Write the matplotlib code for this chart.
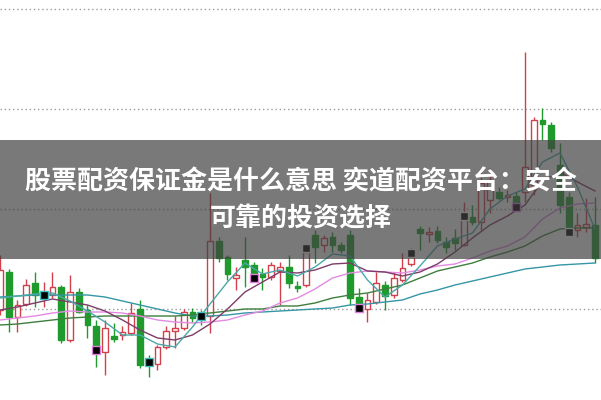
import numpy as np
import matplotlib
matplotlib.use("Agg")
import matplotlib.pyplot as plt

# K线数据 (开 高 低 收)
opens = [8.99, 9.37, 8.92, 9.05, 9.26, 9.12, 9.14, 9.22, 8.69, 9.17,
         8.99, 8.83, 8.57, 8.73, 8.74, 8.76, 9.00, 8.50, 8.45, 8.62,
         8.78, 8.81, 8.97, 8.96, 8.93, 9.68, 9.52, 9.31, 9.49, 9.44,
         9.35, 9.32, 9.38, 9.42, 9.23, 9.24, 9.74, 9.64, 9.72, 9.64,
         9.74, 9.12, 9.00, 9.07, 9.24, 9.14, 9.29, 9.45, 9.80, 9.75,
         9.78, 9.67, 9.71, 9.64, 9.92, 9.87, 10.09, 10.17, 10.12, 10.13,
         10.17, 10.24, 10.89, 10.84, 10.44, 10.12, 9.79, 9.82, 9.84]
highs = [9.54, 9.40, 9.09, 9.30, 9.37, 9.27, 9.37, 9.24, 9.34, 9.21,
         9.04, 8.89, 8.89, 8.86, 8.83, 9.06, 9.09, 8.54, 8.64, 8.83,
         8.93, 9.00, 9.01, 8.99, 10.16, 9.72, 9.54, 9.42, 9.72, 9.47,
         9.41, 9.47, 9.47, 9.54, 9.28, 9.61, 9.79, 9.74, 9.77, 9.67,
         9.79, 9.21, 9.16, 9.37, 9.28, 9.37, 9.56, 9.61, 9.83, 9.82,
         9.83, 9.72, 9.80, 10.07, 10.04, 10.37, 10.41, 10.22, 10.19, 10.17,
         11.57, 10.92, 11.01, 10.87, 10.66, 10.17, 9.96, 10.11, 10.12]
lows = [8.94, 8.77, 8.77, 9.03, 9.02, 9.02, 9.11, 8.66, 8.67, 8.96,
        8.71, 8.42, 8.34, 8.67, 8.69, 8.74, 8.41, 8.32, 8.39, 8.60,
        8.61, 8.79, 8.87, 8.84, 8.76, 9.47, 9.29, 9.19, 9.22, 9.28,
        9.19, 9.29, 9.04, 9.21, 9.17, 9.22, 9.46, 9.57, 9.57, 9.56,
        9.04, 8.97, 8.87, 9.05, 8.99, 9.11, 9.27, 9.43, 9.59, 9.67,
        9.66, 9.56, 9.59, 9.63, 9.84, 9.79, 9.96, 10.09, 10.07, 10.04,
        10.07, 10.14, 10.69, 10.57, 9.96, 9.74, 9.72, 9.77, 9.46]
closes = [9.39, 8.92, 9.04, 9.24, 9.14, 9.16, 9.22, 8.69, 9.17, 8.97,
          8.84, 8.57, 8.81, 8.70, 8.77, 8.96, 8.44, 8.45, 8.62, 8.78,
          8.81, 8.97, 8.91, 8.90, 9.68, 9.51, 9.35, 9.34, 9.42, 9.33,
          9.32, 9.44, 9.42, 9.26, 9.21, 9.57, 9.62, 9.71, 9.64, 9.59,
          9.11, 9.02, 9.09, 9.26, 9.13, 9.31, 9.41, 9.52, 9.76, 9.77,
          9.69, 9.62, 9.66, 9.94, 9.87, 10.26, 10.29, 10.11, 10.14, 10.06,
          10.42, 10.89, 10.85, 10.61, 10.04, 9.79, 9.84, 9.85, 9.51]

# 均线 (每两根K线读一个点)
ma5 = [9.11, 9.13, 9.15, 9.16, 9.08, 8.98, 8.87, 8.74, 8.74, 8.65,
       8.62, 8.82, 9.05, 9.27, 9.46, 9.35, 9.39, 9.33, 9.42, 9.55,
       9.53, 9.29, 9.12, 9.24, 9.43, 9.63, 9.70, 9.76, 10.00, 10.13,
       10.20, 10.47, 10.56, 10.22, 9.80]
ma10 = [8.99, 9.02, 9.06, 9.10, 9.07, 9.04, 8.98, 8.89, 8.79, 8.71,
        8.69, 8.74, 8.85, 9.00, 9.17, 9.27, 9.37, 9.36, 9.39, 9.45,
        9.46, 9.38, 9.37, 9.33, 9.37, 9.45, 9.57, 9.71, 9.84, 9.93,
        10.04, 10.28, 10.37, 10.27, 10.18]
ma20 = [8.89, 8.91, 8.93, 8.96, 8.98, 8.97, 8.97, 8.96, 8.93, 8.89,
        8.87, 8.86, 8.87, 8.89, 8.94, 8.98, 9.06, 9.11, 9.20, 9.31,
        9.36, 9.38, 9.37, 9.36, 9.39, 9.43, 9.45, 9.51, 9.58, 9.63,
        9.72, 9.90, 10.01, 10.05, 10.06]
ma30 = [8.84, 8.85, 8.87, 8.89, 8.91, 8.92, 8.93, 8.93, 8.93, 8.93,
        8.93, 8.94, 8.96, 8.98, 9.00, 9.00, 9.03, 9.03, 9.06, 9.11,
        9.14, 9.16, 9.20, 9.24, 9.31, 9.38, 9.42, 9.46, 9.52, 9.57,
        9.63, 9.73, 9.80, 9.81, 9.81]
ma60 = [9.12, 9.13, 9.14, 9.14, 9.14, 9.14, 9.12, 9.08, 9.04, 9.00,
        8.96, 8.93, 8.93, 8.94, 8.96, 8.97, 8.98, 8.99, 9.00, 9.01,
        9.04, 9.05, 9.07, 9.09, 9.15, 9.19, 9.24, 9.28, 9.32, 9.36,
        9.40, 9.42, 9.44, 9.45, 9.46]

# 每6根的小标记
mark_idx = [5, 11, 17, 23, 29, 35, 41, 47, 53, 59, 65]
mark_val = [9.14, 8.59, 8.47, 8.93, 9.31, 9.61, 9.01, 9.56, 9.93, 10.02, 9.77]
mark_col = ["#40c0c0", "#e080e0", "#40c0c0", "#40c0c0", "#e080e0", "white",
            "#e080e0", "white", "white", "#e080e0", "white"]

grid_levels = [9, 10, 11, 12]
title_1 = "股票配资保证金是什么意思 奕道配资平台：安全"
title_2 = "可靠的投资选择"

RED = "#d2404c"
GREEN = "#1f9a2c"

o = np.array(opens); h = np.array(highs); l = np.array(lows); c = np.array(closes)
x = np.arange(len(c))
up = c >= o

fig = plt.figure(figsize=(6.01, 4.0), dpi=100)
ax = fig.add_axes([0, 0, 1, 1])
ax.set_xlim(0, 68.69)
ax.set_ylim(8.09, 12.09)
ax.axis("off")

for g in grid_levels:
    ax.axhline(g, color="#9a9a9a", lw=1, ls=(0, (1, 2)), zorder=1)

# 影线
ax.vlines(x, l, h, colors=[RED if u else GREEN for u in up], lw=1, zorder=2)
# 实体: 阳线空心红, 阴线实心绿
ax.bar(x[up], np.maximum(c[up] - o[up], 0.015), bottom=o[up], width=0.66,
       facecolor="white", edgecolor=RED, lw=1, zorder=3)
ax.bar(x[~up], np.maximum(o[~up] - c[~up], 0.02), bottom=c[~up], width=0.66,
       facecolor=GREEN, edgecolor=GREEN, lw=1, zorder=3)

mx = np.arange(0, len(c), 2)
ax.plot(mx, ma60, color="#3596a6", lw=1, zorder=4)
ax.plot(mx, ma30, color="#3d7f3d", lw=1, zorder=4)
ax.plot(mx, ma20, color="#e38ae3", lw=1, zorder=4)
ax.plot(mx, ma10, color="#7e3c68", lw=1, zorder=4)
ax.plot(mx, ma5, color="#4aa8a8", lw=1, zorder=4)

ax.scatter(mark_idx, mark_val, marker="s", s=30, c="black",
           edgecolors=mark_col, linewidths=1, zorder=5)

# 灰色横幅
ax.axhspan(9.50, 10.69, color="#404040", alpha=0.7, lw=0, zorder=6)

fam = ["Noto Sans CJK SC", "DejaVu Sans"]
fig.text(0.5, 1 - 182 / 400, title_1, ha="center", va="center", fontsize=18.7,
         color="white", fontweight="bold", family=fam)
fig.text(0.5, 1 - 219 / 400, title_2, ha="center", va="center", fontsize=18.7,
         color="white", fontweight="bold", family=fam)

fig.savefig("out.png", dpi=100)
